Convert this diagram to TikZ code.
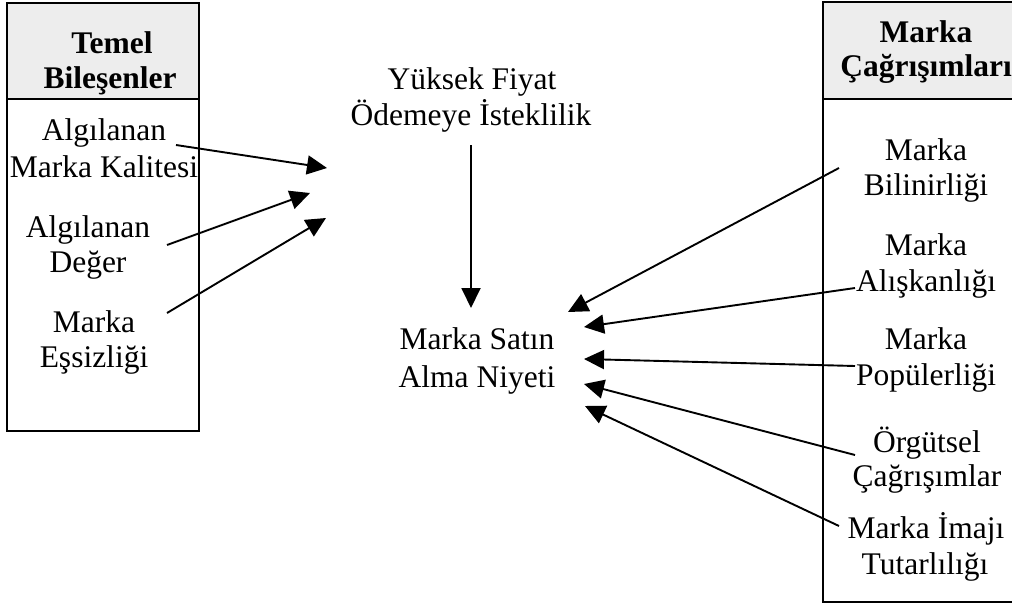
\documentclass[tikz,border=0pt]{standalone}
\usepackage{fontspec}
\setmainfont{Liberation Serif}
\usetikzlibrary{arrows.meta}
\begin{document}
\begin{tikzpicture}[x=1pt,y=-1pt,
  txt/.style={font=\fontsize{31.5}{35}\selectfont, inner sep=0pt, anchor=base},
  hdr/.style={font=\fontsize{31.5}{35}\selectfont\bfseries, inner sep=0pt, anchor=base},
  arr/.style={line width=1.9pt, -{Triangle[length=20pt,width=19pt]}},
  frame/.style={line width=2pt},
  headfill/.style={fill=black!7}]
\useasboundingbox (0,0) rectangle (1012,605);
% left box
\fill[headfill] (7,3) rectangle (199,99);
\draw[frame] (7,3) rectangle (199,431);
\draw[frame] (7,99) -- (199,99);
% right box
\fill[headfill] (823,2) rectangle (1030,99);
\draw[frame] (823,2) rectangle (1030,602);
\draw[frame] (823,99) -- (1030,99);
% left header and items
\node[hdr] (tem1) at (112,53) {Temel};
\node[hdr] (tem2) at (110,88) {Bileşenler};
\node[txt] (l1a) at (104,140) {Algılanan};
\node[txt] (l1b) at (104,177) {Marka Kalitesi};
\node[txt] (l2a) at (88,237) {Algılanan};
\node[txt] (l2b) at (88,272) {Değer};
\node[txt] (l3a) at (94,332) {Marka};
\node[txt] (l3b) at (94,367) {Eşsizliği};
% centre
\node[txt] (y1) at (472,89) {Yüksek Fiyat};
\node[txt] (y2) at (471,125) {Ödemeye İsteklilik};
\node[txt] (m1) at (477,349) {Marka Satın};
\node[txt] (m2) at (477,387) {Alma Niyeti};
% right header and items
\node[hdr] (mc1) at (926,42) {Marka};
\node[hdr] (mc2) at (926,76) {Çağrışımları};
\node[txt] (r1a) at (926,160) {Marka};
\node[txt] (r1b) at (926,195) {Bilinirliği};
\node[txt] (r2a) at (926,255) {Marka};
\node[txt] (r2b) at (926,291) {Alışkanlığı};
\node[txt] (r3a) at (926,349) {Marka};
\node[txt] (r3b) at (926,385) {Popülerliği};
\node[txt] (r4a) at (927,452) {Örgütsel};
\node[txt] (r4b) at (927,486) {Çağrışımlar};
\node[txt] (r5a) at (926,538) {Marka İmajı};
\node[txt] (r5b) at (925,574) {Tutarlılığı};
% connector end points
\coordinate (s1) at (176,145); \coordinate (t1) at (327,168);
\coordinate (s2) at (167,245); \coordinate (t2) at (310,193);
\coordinate (s3) at (167,313); \coordinate (t3) at (326,218);
\coordinate (sv) at (471,145); \coordinate (tv) at (471,308);
\coordinate (u1) at (839,168); \coordinate (v1) at (568,312);
\coordinate (u2) at (855,288); \coordinate (v2) at (584,327);
\coordinate (u3) at (855,366); \coordinate (v3) at (584,359);
\coordinate (u4) at (855,455); \coordinate (v4) at (584,384);
\coordinate (u5) at (839,526); \coordinate (v5) at (585,406);
\draw[arr] (s1) -- (t1);
\draw[arr] (s2) -- (t2);
\draw[arr] (s3) -- (t3);
\draw[arr] (sv) -- (tv);
\draw[arr] (u1) -- (v1);
\draw[arr] (u2) -- (v2);
\draw[arr] (u3) -- (v3);
\draw[arr] (u4) -- (v4);
\draw[arr] (u5) -- (v5);
\end{tikzpicture}
\end{document}
